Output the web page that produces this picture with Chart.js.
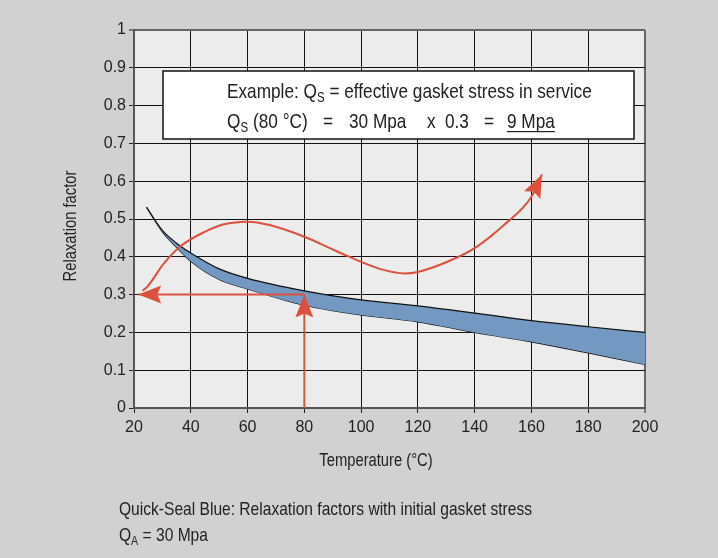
<!DOCTYPE html>
<html>
<head>
<meta charset="utf-8">
<script src="https://cdn.jsdelivr.net/npm/chart.js@4"></script>
<style>
html,body{margin:0;padding:0;background:#d0d1d0;}
#contenedor{width:718px;height:558px;}
</style>
</head>
<body>
<div id="contenedor"><canvas id="grafico"></canvas></div>
<script>
// banda de relajacion (borde superior e inferior)
const temperaturas = [24.4, 30, 35, 40, 50, 60, 80, 100, 120, 140, 160, 180, 200];
const factorSuperior = [0.531, 0.47, 0.436, 0.41, 0.368, 0.343, 0.31, 0.286, 0.27, 0.251, 0.231, 0.215, 0.2];
const factorInferior = [0.531, 0.466, 0.425, 0.388, 0.34, 0.315, 0.272, 0.246, 0.228, 0.2, 0.175, 0.146, 0.115];

// curva roja (flecha curva)
const curvaX = [23, 24.7, 30.6, 36.6, 44.9, 51.7, 60, 67.8, 80, 91.6, 106.6, 115.4, 120, 130.4, 140, 150.3, 160, 163.7];
const curvaY = [0.31, 0.321, 0.383, 0.429, 0.466, 0.486, 0.493, 0.484, 0.453, 0.414, 0.368, 0.356, 0.36, 0.387, 0.423, 0.484, 0.559, 0.618];

// flechas del ejemplo (80 °C -> 0.3)
const flechaVerticalX = [80, 80];
const flechaVerticalY = [0, 0.3];
const flechaHorizontalX = [80, 21.5];
const flechaHorizontalY = [0.3, 0.3];

const ticksX = [20, 40, 60, 80, 100, 120, 140, 160, 180, 200];
const ticksY = [0, 0.1, 0.2, 0.3, 0.4, 0.5, 0.6, 0.7, 0.8, 0.9, 1];

const fuente = "'Liberation Sans', Arial, sans-serif";
const estrecho = 0.82; // simula la letra condensada
const rojo = '#de503e';
const azul = '#7399c2';
const texto = '#222222';

function puntos(xs, ys){
    let lista = [];
    for(var i=0; i<xs.length; i++){
        lista.push({x: xs[i], y: ys[i]});
    }
    return lista;
}

const fondo = {
    id: 'fondo',
    beforeDraw(chart){
        const ctx = chart.ctx;
        const a = chart.chartArea;
        ctx.save();
        ctx.fillStyle = '#d0d1d0';
        ctx.fillRect(0, 0, chart.width, chart.height);
        ctx.fillStyle = '#ececec';
        ctx.fillRect(a.left, a.top, a.right - a.left, a.bottom - a.top);
        ctx.restore();
    }
};

function puntaFlecha(ctx, x, y, ang){
    const largo = 23, ancho = 9, muesca = 4;
    ctx.save();
    ctx.translate(x, y);
    ctx.rotate(ang);
    ctx.beginPath();
    ctx.moveTo(0, 0);
    ctx.lineTo(-largo, -ancho);
    ctx.lineTo(-largo + muesca, 0);
    ctx.lineTo(-largo, ancho);
    ctx.closePath();
    ctx.fillStyle = rojo;
    ctx.fill();
    ctx.restore();
}

const flechas = {
    id: 'flechas',
    afterDatasetsDraw(chart){
        const ctx = chart.ctx;
        chart.data.datasets.forEach((ds, i) => {
            if(!ds.flecha) return;
            const meta = chart.getDatasetMeta(i);
            const n = meta.data.length;
            const p1 = meta.data[n-2];
            const p2 = meta.data[n-1];
            const ang = Math.atan2(p2.y - p1.y, p2.x - p1.x);
            puntaFlecha(ctx, p2.x, p2.y, ang);
        });
    }
};

// texto estrecho, devuelve el ancho
function escribir(ctx, t, x, y, size){
    ctx.save();
    ctx.font = size + 'px ' + fuente;
    ctx.translate(x, y);
    ctx.scale(estrecho, 1);
    ctx.fillText(t, 0, 0);
    const w = ctx.measureText(t).width * estrecho;
    ctx.restore();
    return w;
}

// dibuja texto con subindice, devuelve la x final
function conSubindice(ctx, partes, x, y, size){
    partes.forEach(p => {
        if(p.en !== undefined) x = p.en;
        let w;
        if(p.sub){
            w = escribir(ctx, p.t, x, y + 4, Math.round(size * 0.68));
        }else{
            w = escribir(ctx, p.t, x, y, size);
        }
        if(p.subrayado){
            ctx.fillRect(x, y + 3, w, 1.2);
        }
        x += w;
    });
    return x;
}

const textos = {
    id: 'textos',
    afterDraw(chart){
        const ctx = chart.ctx;
        ctx.save();
        // recuadro del ejemplo
        ctx.fillStyle = '#ffffff';
        ctx.fillRect(163, 71, 471, 68);
        ctx.strokeStyle = '#111111';
        ctx.lineWidth = 1.5;
        ctx.strokeRect(163, 71, 471, 68);
        ctx.fillStyle = texto;
        ctx.textBaseline = 'alphabetic';
        ctx.textAlign = 'left';
        conSubindice(ctx, [
            {t: 'Example: Q'}, {t: 'S', sub: true}, {t: ' = effective gasket stress in service'}
        ], 227, 98, 21);
        conSubindice(ctx, [
            {t: 'Q'}, {t: 'S', sub: true}, {t: '(80 \u00b0C)', en: 253},
            {t: '=', en: 323}, {t: '30 Mpa', en: 349}, {t: 'x', en: 427},
            {t: '0.3', en: 445}, {t: '=', en: 484}, {t: '9 Mpa', en: 507, subrayado: true}
        ], 227, 128, 21);

        // titulos de ejes
        ctx.textBaseline = 'middle';
        let w = escribir(ctx, 'Temperature (\u00b0C)', 0, -1000, 18);
        escribir(ctx, 'Temperature (\u00b0C)', 376 - w / 2, 461, 18);
        ctx.save();
        ctx.translate(71, 226);
        ctx.rotate(-Math.PI / 2);
        w = escribir(ctx, 'Relaxation factor', 0, -1000, 18);
        escribir(ctx, 'Relaxation factor', -w / 2, 0, 18);
        ctx.restore();

        // pie
        ctx.textBaseline = 'alphabetic';
        escribir(ctx, 'Quick-Seal Blue: Relaxation factors with initial gasket stress', 119, 515, 19);
        conSubindice(ctx, [{t: 'Q'}, {t: 'A', sub: true}, {t: ' = 30 Mpa'}], 119, 541, 19);
        ctx.restore();
    }
};

function grafico(){
    const ctx = document.getElementById('grafico');
    const myChart = new Chart(ctx, {
    type: 'line',
    data: {
        datasets: [
            {
                data: puntos(flechaHorizontalX, flechaHorizontalY),
                borderColor: rojo, borderWidth: 2, pointRadius: 0, fill: false, flecha: true
            },
            {
                data: puntos(flechaVerticalX, flechaVerticalY),
                borderColor: rojo, borderWidth: 2, pointRadius: 0, fill: false, flecha: true
            },
            {
                data: puntos(curvaX, curvaY),
                borderColor: rojo, borderWidth: 2, pointRadius: 0, fill: false, flecha: true,
                cubicInterpolationMode: 'monotone'
            },
            {
                data: puntos(temperaturas, factorSuperior),
                borderColor: '#111111', borderWidth: 1.2, pointRadius: 0,
                backgroundColor: azul, fill: '+1',
                cubicInterpolationMode: 'monotone'
            },
            {
                data: puntos(temperaturas, factorInferior),
                borderColor: '#111111', borderWidth: 1.2, pointRadius: 0, fill: false,
                cubicInterpolationMode: 'monotone'
            }
        ]
    },
    options: {
        responsive: true,
        maintainAspectRatio: false,
        animation: false,
        events: [],
        layout: {padding: {left: 0, right: 73, top: 30, bottom: 100}},
        plugins: {legend: {display: false}, tooltip: {enabled: false}},
        scales: {
            x: {
                type: 'linear', min: 20, max: 200,
                afterBuildTicks: s => { s.ticks = ticksX.map(v => ({value: v})); },
                afterFit: s => { s.height = 50; },
                grid: {
                    color: c => (c.tick && c.tick.value === 200) ? '#666666' : '#111111',
                    lineWidth: c => (c.tick && c.tick.value === 200) ? 2 : 1,
                    tickColor: '#222222', tickLength: 5, tickWidth: 1
                },
                border: {color: '#555555', width: 2},
                ticks: {
                    color: texto, padding: 5, maxRotation: 0, autoSkip: false,
                    font: {family: fuente, size: 16},
                    callback: v => String(v)
                }
            },
            y: {
                min: 0, max: 1,
                afterBuildTicks: s => { s.ticks = ticksY.map(v => ({value: v})); },
                afterFit: s => { s.width = 134; },
                grid: {
                    color: c => (c.tick && c.tick.value === 1) ? '#666666' : '#111111',
                    lineWidth: c => (c.tick && c.tick.value === 1) ? 2 : 1,
                    tickColor: '#222222', tickLength: 5, tickWidth: 1
                },
                border: {color: '#555555', width: 2},
                ticks: {
                    color: texto, padding: 3, autoSkip: false,
                    font: {family: fuente, size: 16},
                    callback: v => (v === 0 || v === 1) ? String(v) : (Math.round(v * 10) / 10).toFixed(1)
                }
            }
        }
    },
    plugins: [fondo, flechas, textos]
    });
}

grafico();
</script>
</body>
</html>
